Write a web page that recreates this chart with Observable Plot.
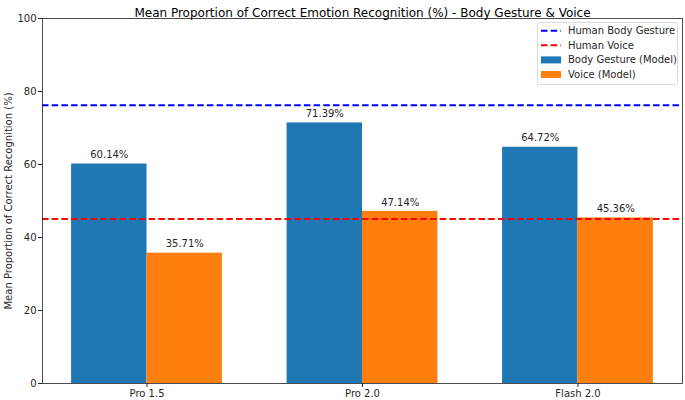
<!DOCTYPE html>
<html>
<head>
<meta charset="utf-8">
<script src="https://cdn.jsdelivr.net/npm/d3@7"></script>
<script src="https://cdn.jsdelivr.net/npm/@observablehq/plot@0.6"></script>
<style>
  html, body { margin: 0; padding: 0; background: #fff; }
  #chart { width: 685px; height: 400px; }
</style>
</head>
<body>
<div id="chart"></div>
<script>
const models = ["Pro 1.5", "Pro 2.0", "Flash 2.0"];
const bodyGestureModel = [60.14, 71.39, 64.72];
const voiceModel = [35.71, 47.14, 45.36];
const humanBodyGesture = 76.2;
const humanVoice = 45.1;
const yTicks = [0, 20, 40, 60, 80, 100];
const titleText = "Mean Proportion of Correct Emotion Recognition (%) - Body Gesture & Voice";
const yLabel = "Mean Proportion of Correct Recognition (%)";

const barWidth = 0.35;
const bars = [];
models.forEach((m, i) => {
  bars.push({series: "Body Gesture (Model)", x1: i - barWidth, x2: i, value: bodyGestureModel[i]});
  bars.push({series: "Voice (Model)", x1: i, x2: i + barWidth, value: voiceModel[i]});
});
const colors = {"Body Gesture (Model)": "#1f77b4", "Voice (Model)": "#ff7f0e"};

const font = "'DejaVu Sans', sans-serif";
const plot = Plot.plot({
  width: 685,
  height: 400,
  marginLeft: 42,
  marginRight: 3,
  marginTop: 18,
  marginBottom: 17,
  style: {fontFamily: font, fontSize: "10px", color: "#262626", background: "#fff"},
  x: {type: "linear", domain: [-0.485, 2.485]},
  y: {domain: [0, 100]},
  marks: [
    Plot.rectY(bars, {x1: "x1", x2: "x2", y1: 0, y2: "value", fill: d => colors[d.series], insetLeft: 0, insetRight: 0}),
    Plot.text(bars, {x: d => (d.x1 + d.x2) / 2, y: "value", text: d => d.value.toFixed(2) + "%", dy: -9, fill: "#262626", fontSize: 10}),
    Plot.ruleY([humanBodyGesture], {stroke: "#0000ff", strokeWidth: 2, strokeDasharray: "6.5,3.2"}),
    Plot.ruleY([humanVoice], {stroke: "#ff0000", strokeWidth: 2, strokeDasharray: "6.5,3.2"}),
    Plot.axisX({ticks: [0, 1, 2], tickFormat: i => models[i], tickSize: 4, label: null, tickPadding: 2}),
    Plot.axisY({ticks: yTicks, tickSize: 4, label: yLabel, labelAnchor: "center", labelArrow: "none", labelOffset: 38, tickPadding: 2}),
    Plot.frame({stroke: "#222", strokeWidth: 0.8}),
    Plot.text([titleText], {frameAnchor: "top", dy: -10, fontSize: 12, fill: "#000"})
  ]
});
document.getElementById("chart").appendChild(plot);

// Legend
const svg = d3.select(plot);
const lg = svg.append("g").attr("font-family", font).attr("font-size", 10).attr("text-anchor", "start");
lg.append("rect").attr("x", 537.5).attr("y", 22.5).attr("width", 140).attr("height", 62).attr("rx", 2)
  .attr("fill", "#fff").attr("fill-opacity", 0.8).attr("stroke", "#d0d0d0").attr("stroke-width", 0.8);
const entries = [
  {label: "Human Body Gesture", type: "line", color: "#0000ff"},
  {label: "Human Voice", type: "line", color: "#ff0000"},
  {label: "Body Gesture (Model)", type: "rect", color: colors["Body Gesture (Model)"]},
  {label: "Voice (Model)", type: "rect", color: colors["Voice (Model)"]}
];
entries.forEach((e, i) => {
  const y = 30.7 + i * 14.6;
  if (e.type === "line") {
    lg.append("line").attr("x1", 541).attr("x2", 561).attr("y1", y).attr("y2", y)
      .attr("stroke", e.color).attr("stroke-width", 2).attr("stroke-dasharray", "6.5,3.2");
  } else {
    lg.append("rect").attr("x", 541).attr("y", y - 3.5).attr("width", 20).attr("height", 7).attr("fill", e.color);
  }
  lg.append("text").attr("x", 568).attr("y", y).attr("dy", "0.35em").attr("text-anchor", "start").attr("fill", "#262626").text(e.label);
});
</script>
</body>
</html>
